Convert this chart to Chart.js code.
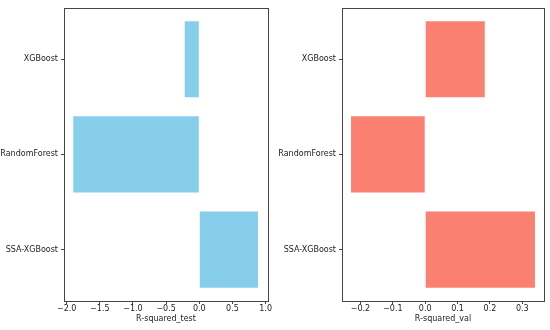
<!DOCTYPE html>
<html>
<head>
<meta charset="utf-8">
<script src="https://cdn.jsdelivr.net/npm/chart.js@4"></script>
<style>
  body { margin: 0; background: #fff; }
  .box { position: absolute; top: 0; width: 275px; height: 330px; }
</style>
</head>
<body>
<div class="box" style="left:0"><canvas id="testChart"></canvas></div>
<div class="box" style="left:275px"><canvas id="valChart"></canvas></div>
<script>
// models, bottom to top as in the source figure
var models = ["SSA-XGBoost", "RandomForest", "XGBoost"];
var r2Test = [0.885, -1.90, -0.22];
var r2Val = [0.339, -0.229, 0.184];

var tickFont = { family: "DejaVu Sans", size: 8 };
var axisColor = "#444";

var boxPlugin = {
    id: "box",
    afterDraw: function (chart) {
        var a = chart.chartArea;
        var ctx = chart.ctx;
        ctx.save();
        ctx.strokeStyle = axisColor;
        ctx.lineWidth = 1;
        ctx.strokeRect(Math.round(a.left) + 0.5, Math.round(a.top) + 0.5, Math.round(a.right - a.left), Math.round(a.bottom - a.top));
        ctx.restore();
    }
};

function fmt(v)
{
    return v.toFixed(1).replace("-", "\u2212");
}

// min/max stay as set; ticks every step inside them
function onStep(step)
{
    return function (scale) {
        var ticks = [];
        var first = Math.ceil(scale.min / step - 1e-9);
        var last = Math.floor(scale.max / step + 1e-9);
        for (var k = first; k <= last; k++)
        {
            ticks.push({ value: Math.round(k * step * 1000) / 1000 });
        }
        scale.ticks = ticks;
    };
}

function makeChart(id, values, color, title, xMin, xMax, step, yWidth, padRight)
{
    var points = [];
    for (var i = 0; i < models.length; i++)
    {
        points.push({ x: values[i], y: i });
    }
    return new Chart(document.getElementById(id), {
        type: "bar",
        data: {
            datasets: [{
                data: points,
                backgroundColor: color,
                borderWidth: 0,
                barPercentage: 0.8,
                categoryPercentage: 1.0
            }]
        },
        options: {
            indexAxis: "y",
            responsive: true,
            maintainAspectRatio: false,
            animation: false,
            layout: { padding: { top: 4, right: padRight, left: 0, bottom: 5 } },
            plugins: { legend: { display: false }, tooltip: { enabled: false } },
            scales: {
                x: {
                    type: "linear",
                    min: xMin,
                    max: xMax,
                    offset: false,
                    border: { display: false },
                    grid: { offset: false, drawOnChartArea: false, drawTicks: true, tickLength: 3, tickColor: axisColor },
                    ticks: {
                        stepSize: step,
                        maxRotation: 0,
                        autoSkip: false,
                        padding: 0,
                        color: "#222",
                        font: tickFont,
                        callback: function (v) { return fmt(v); }
                    },
                    afterBuildTicks: onStep(step),
                    afterFit: function (scale) { scale.height = 24; },
                    title: { display: true, text: title, color: "#222", font: tickFont, padding: { top: 1, bottom: 1 } }
                },
                y: {
                    type: "linear",
                    min: -0.54,
                    max: 2.54,
                    offset: false,
                    border: { display: false },
                    grid: { offset: false, drawOnChartArea: false, drawTicks: true, tickLength: 3, tickColor: axisColor },
                    ticks: {
                        stepSize: 1,
                        autoSkip: false,
                        padding: 3,
                        color: "#222",
                        font: tickFont,
                        callback: function (v) { return models[v] || ""; }
                    },
                    afterBuildTicks: onStep(1),
                    afterFit: function (scale) { scale.width = yWidth; }
                }
            }
        },
        plugins: [boxPlugin]
    });
}

var testChart = makeChart("testChart", r2Test, "#87CEEB", "R-squared_test", -2.04, 1.036, 0.5, 64, 7);
var valChart = makeChart("valChart", r2Val, "#FA8072", "R-squared_val", -0.257, 0.367, 0.1, 67, 6);
</script>
</body>
</html>
